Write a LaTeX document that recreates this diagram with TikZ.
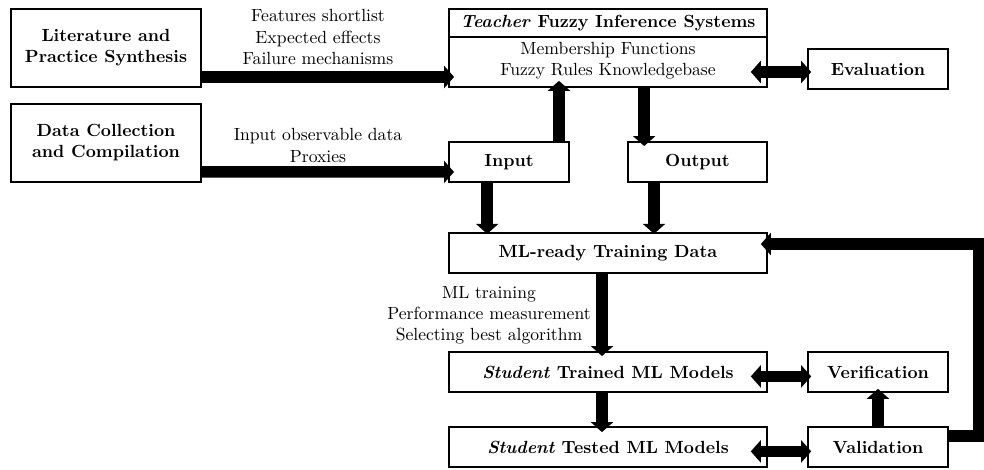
\documentclass[tikz,border=0pt]{standalone}
\usetikzlibrary{arrows.meta,calc}
\begin{document}
\begin{tikzpicture}[x=0.568pt,y=-0.568pt,
  box/.style={draw,line width=1pt,align=center,font=\bfseries,inner sep=0pt},
  lbl/.style={align=center,inner sep=0pt},
  bigarrow/.style={line width=6.5pt,-{Triangle[width=12.5pt,length=5.7pt]}},
  dblarrow/.style={line width=6.5pt,{Triangle[width=12.5pt,length=5.7pt]}-{Triangle[width=12.5pt,length=5.7pt]}}]
\useasboundingbox (0,0) rectangle (984,470);

% boxes
\node[box,minimum width=107.9pt,minimum height=44.3pt] (lit) at (106,48) {Literature and\\Practice Synthesis};
\node[box,minimum width=107.9pt,minimum height=44.3pt] (data) at (106,143) {Data Collection\\and Compilation};
\node[draw,line width=1pt,minimum width=180.6pt,minimum height=44.3pt,inner sep=0pt] (teacher) at (608,48) {};
\node[lbl,font=\bfseries] (ttitle) at (608,23.5) {\textit{Teacher} Fuzzy Inference Systems};
\node[lbl] (tbody) at (608,61) {Membership Functions\\Fuzzy Rules Knowledgebase};
\draw[line width=1pt] ([yshift=-16.5pt]teacher.north west) -- ([yshift=-16.5pt]teacher.north east);
\node[box,minimum width=79.5pt,minimum height=22.7pt] (eval) at (878,69) {Evaluation};
\node[box,minimum width=68.2pt,minimum height=22.7pt] (input) at (509,162) {Input};
\node[box,minimum width=79pt,minimum height=22.7pt] (output) at (697.5,162) {Output};
\node[box,minimum width=180.6pt,minimum height=22.7pt] (ml) at (608,253) {ML-ready Training Data};
\node[box,minimum width=180.6pt,minimum height=22.7pt] (trained) at (608,372) {\textit{Student} Trained ML Models};
\node[box,minimum width=180.6pt,minimum height=22.7pt] (tested) at (608,447) {\textit{Student} Tested ML Models};
\node[box,minimum width=79.5pt,minimum height=22.7pt] (verif) at (878,372) {Verification};
\node[box,minimum width=79.5pt,minimum height=22.7pt] (valid) at (878,447) {Validation};

% labels
\node[lbl] (l1) at (318,37) {Features shortlist\\Expected effects\\Failure mechanisms};
\node[lbl] (l2) at (318,145.5) {Input observable data\\Proxies};
\node[lbl] (l3) at (489,315) {ML training\\Performance measurement\\Selecting best algorithm};

% arrows
\draw[bigarrow,shorten >=-3.4pt] ([yshift=6.2pt]lit.south east) -- ([yshift=6.2pt]teacher.south west);
\draw[bigarrow,shorten >=-3.4pt] ([yshift=6.2pt]data.south east) -- ([yshift=6.2pt]input.south west);
\coordinate (it) at ([xshift=-6.2pt]input.north east);
\draw[bigarrow,shorten >=-4pt] (it) -- (it |- teacher.south);
\coordinate (ot) at ([xshift=9.7pt]output.north west);
\draw[bigarrow,shorten >=-2.8pt] (ot |- teacher.south) -- (ot);
\coordinate (ev) at ([yshift=-1.7pt]eval.west);
\draw[dblarrow,shorten <=-9.7pt,shorten >=-2.3pt] (ev -| teacher.east) -- (ev);
\coordinate (im) at ([xshift=22.2pt]input.south west);
\draw[bigarrow,shorten >=-1pt] (im) -- (im |- ml.north);
\coordinate (om) at ([xshift=15.3pt]output.south west);
\draw[bigarrow,shorten >=-1pt] (om) -- (om |- ml.north);
\coordinate (mt) at ([xshift=-3.4pt]ml.south);
\draw[bigarrow,shorten >=-2.8pt] (mt) -- (mt |- trained.north);
\coordinate (tt) at ([xshift=-3.4pt]trained.south);
\draw[bigarrow,shorten >=-3.4pt] (tt) -- (tt |- tested.north);
\draw[dblarrow,shorten <=-9.7pt,shorten >=-2.3pt] ([yshift=-2.5pt]trained.east) -- ([yshift=-2.5pt]verif.west);
\draw[dblarrow,shorten <=-9.7pt,shorten >=-2.3pt] ([yshift=-2.5pt]tested.east) -- ([yshift=-2.5pt]valid.west);
\draw[bigarrow,shorten >=-2.3pt] (valid.north) -- (verif.south);
\draw[bigarrow,shorten >=-4pt] ([yshift=-5.7pt]valid.north east) -- ++(17pt,0) |- ([yshift=5.1pt]ml.east);
\end{tikzpicture}
\end{document}
